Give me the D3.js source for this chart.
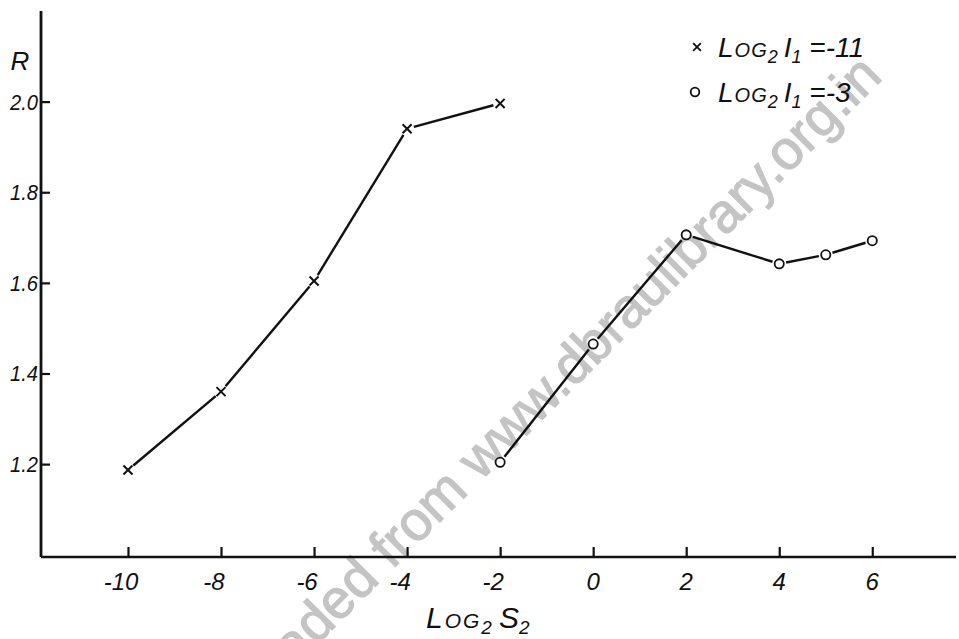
<!DOCTYPE html>
<meta charset="utf-8">
<style>
body { margin: 0; background: #fff; }
text { font-family: "Liberation Sans", "DejaVu Sans", sans-serif; font-style: italic; fill: #111; }
.mark { stroke: #111; fill: none; }
</style>
<body>
<script src="https://d3js.org/d3.v7.min.js"></script>
<script>
var width = 959,
    height = 639;

// data
var xTicks = [-10, -8, -6, -4, -2, 0, 2, 4, 6];
var yTicks = [1.2, 1.4, 1.6, 1.8, 2.0];
var yTickLabels = ["1.2", "1.4", "1.6", "1.8", "2.0"];

var crossX = [-10, -8, -6, -4, -2];
var crossR = [1.187, 1.36, 1.604, 1.94, 1.996];   // Log2 I1 = -11

var circleX = [-2, 0, 2, 4, 5, 6];
var circleR = [1.204, 1.465, 1.706, 1.642, 1.662, 1.693];   // Log2 I1 = -3

var x = d3.scaleLinear()
    .domain([-11.87, 7.8])
    .range([41, 956]);

var y = d3.scaleLinear()
    .domain([0.995, 2.2])
    .range([557, 11]);

var svg = d3.select("body").append("svg")
    .attr("width", width)
    .attr("height", height);

// watermark sits behind the drawing
svg.append("text")
    .attr("transform", "translate(884,78) rotate(-45)")
    .attr("text-anchor", "end")
    .style("font-style", "normal")
    .style("font-size", "55px")
    .style("fill", "#c4c4c4")
    .style("stroke", "#c4c4c4")
    .style("stroke-width", 1.2)
    .text("Downloaded from www.dbraulibrary.org.in");

// axes
var xAxis = svg.append("g")
    .attr("transform", "translate(0," + y(0.995) + ")")
    .call(d3.axisBottom(x).tickValues(xTicks).tickSize(-10).tickFormat(""));
xAxis.select(".domain").attr("d", "M" + x.range()[0] + ",0H" + x.range()[1])
    .attr("stroke", "#111").attr("stroke-width", 2.4);
xAxis.selectAll(".tick line").attr("stroke", "#111").attr("stroke-width", 2.2);

var yAxis = svg.append("g")
    .attr("transform", "translate(" + x(-11.87) + ",0)")
    .call(d3.axisLeft(y).tickValues(yTicks).tickSize(-9).tickFormat(""));
yAxis.select(".domain").attr("d", "M0," + y.range()[0] + "V" + y.range()[1])
    .attr("stroke", "#111").attr("stroke-width", 2.8);
yAxis.selectAll(".tick line").attr("stroke", "#111").attr("stroke-width", 2.2);

// tick labels, hand-lettered look
svg.append("g").selectAll("text")
    .data(xTicks)
    .enter().append("text")
      .attr("x", function(d) { return x(d) + (d < 0 ? -7 : 0); })
      .attr("y", 590)
      .attr("text-anchor", "middle")
      .style("font-size", "24px")
      .text(function(d) { return d < 0 ? "-" + Math.abs(d) : d; });

svg.append("g").selectAll("text")
    .data(yTicks)
    .enter().append("text")
      .attr("x", 38)
      .attr("y", function(d) { return y(d) + 8; })
      .attr("text-anchor", "end")
      .attr("textLength", 28)
      .attr("lengthAdjust", "spacingAndGlyphs")
      .style("font-size", "22px")
      .text(function(d, i) { return yTickLabels[i]; });

svg.append("text")
    .attr("x", 20)
    .attr("y", 70)
    .attr("text-anchor", "middle")
    .style("font-size", "26px")
    .text("R");

// x axis title: Log2 S2
var xt = svg.append("text")
    .attr("x", 426)
    .attr("y", 628)
    .style("font-size", "30px");
xt.append("tspan").style("font-variant", "small-caps").style("letter-spacing", "2px").text("Log");
xt.append("tspan").attr("dy", 6).style("font-size", "19px").text("2");
xt.append("tspan").attr("dy", -6).attr("dx", 7).text("S");
xt.append("tspan").attr("dy", 6).style("font-size", "19px").text("2");

// series lines: hand-drawn, stopping short of each marker
function segments(xs, rs) {
  var segs = [];
  for (var i = 0; i < xs.length - 1; i++) {
    var x0 = x(xs[i]), y0 = y(rs[i]), x1 = x(xs[i + 1]), y1 = y(rs[i + 1]);
    var len = Math.hypot(x1 - x0, y1 - y0), gap = 7;
    var ux = (x1 - x0) / len, uy = (y1 - y0) / len;
    segs.push([[x0 + ux * gap, y0 + uy * gap], [x1 - ux * gap, y1 - uy * gap]]);
  }
  return segs;
}

var line = d3.line();

svg.append("g").selectAll("path")
    .data(segments(crossX, crossR).concat(segments(circleX, circleR)))
    .enter().append("path")
      .attr("class", "mark")
      .attr("d", line)
      .attr("stroke-width", 2.4);

// x markers
var cross = d3.symbol().type(d3.symbolX).size(55);
svg.append("g").selectAll("path")
    .data(crossX)
    .enter().append("path")
      .attr("class", "mark")
      .attr("transform", function(d, i) { return "translate(" + x(d) + "," + y(crossR[i]) + ")"; })
      .attr("d", cross)
      .attr("stroke-width", 2);

// o markers
svg.append("g").selectAll("circle")
    .data(circleX)
    .enter().append("circle")
      .attr("class", "mark")
      .attr("cx", function(d) { return x(d); })
      .attr("cy", function(d, i) { return y(circleR[i]); })
      .attr("r", 4.6)
      .attr("stroke-width", 1.8)
      .style("fill", "#fff");

// legend
var legend = [
  {sym: "x", val: "-11", y: 57},
  {sym: "o", val: "-3", y: 102}
];

legend.forEach(function(d) {
  if (d.sym === "x") {
    svg.append("path")
      .attr("class", "mark")
      .attr("transform", "translate(697," + (d.y - 10) + ")")
      .attr("d", d3.symbol().type(d3.symbolX).size(40))
      .attr("stroke-width", 1.8);
  } else {
    svg.append("circle")
      .attr("class", "mark")
      .attr("cx", 695)
      .attr("cy", d.y - 10)
      .attr("r", 4.3)
      .attr("stroke-width", 1.8);
  }
  var t = svg.append("text")
      .attr("x", 718)
      .attr("y", d.y)
      .style("font-size", "28px");
  t.append("tspan").style("font-variant", "small-caps").style("letter-spacing", "1px").text("Log");
  t.append("tspan").attr("dy", 6).style("font-size", "18px").text("2");
  t.append("tspan").attr("dy", -6).attr("dx", 6).text("I");
  t.append("tspan").attr("dy", 6).style("font-size", "18px").text("1");
  t.append("tspan").attr("dy", -6).text(" =" + d.val);
});
</script>
</body>
</html>
